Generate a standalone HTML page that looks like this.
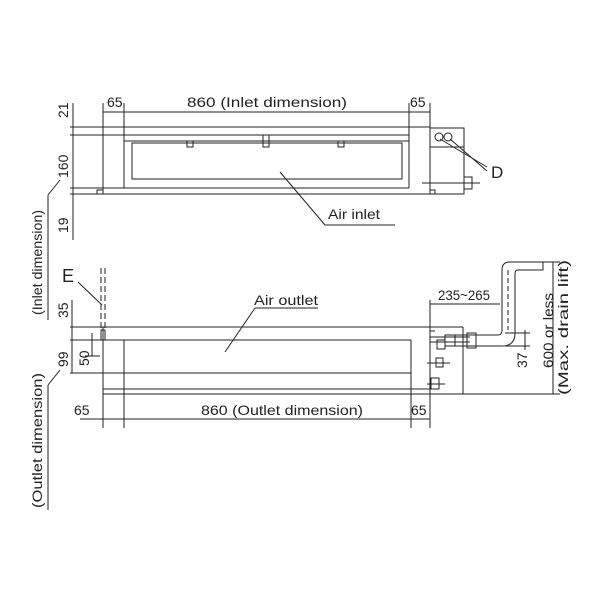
<!DOCTYPE html>
<html><head><meta charset="utf-8"><style>
html,body{margin:0;padding:0;background:#fff;}
svg{display:block;}
text{font-family:"Liberation Sans",sans-serif;font-size:14px;fill:#222;}
</style></head><body>
<svg width="600" height="600" viewBox="0 0 600 600" xmlns="http://www.w3.org/2000/svg">
<g stroke="#222" stroke-width="1" fill="none">
<!-- TOP VIEW -->
<line x1="103" y1="112" x2="430" y2="112"/>
<line x1="103" y1="103" x2="103" y2="194"/>
<line x1="124" y1="103" x2="124" y2="188"/>
<line x1="409" y1="103" x2="409" y2="188"/>
<line x1="430" y1="103" x2="430" y2="194"/>
<line x1="70" y1="127" x2="430" y2="127"/>
<line x1="70" y1="135" x2="409" y2="135"/>
<line x1="124" y1="141" x2="409" y2="141"/>
<line x1="70" y1="188" x2="409" y2="188"/>
<line x1="70" y1="194" x2="430" y2="194"/>
<rect x="132" y="143" width="270" height="36"/>
<rect x="187" y="141" width="6" height="6"/>
<rect x="263" y="135" width="6" height="12"/>
<rect x="338" y="141" width="6" height="6"/>
<rect x="97" y="190" width="6" height="4"/>
<rect x="430" y="190" width="5" height="4"/>
<line x1="73" y1="103" x2="73" y2="240"/>
<rect x="430" y="128" width="34" height="66"/>
<line x1="430" y1="147" x2="464" y2="147"/>
<circle cx="439" cy="137" r="4"/>
<circle cx="448" cy="137" r="4"/>
<line x1="440" y1="139" x2="487" y2="167"/>
<line x1="450" y1="139" x2="487" y2="171"/>
<rect x="464" y="177" width="8" height="12"/>
<line x1="422" y1="183" x2="480" y2="183"/>
<line x1="280" y1="172" x2="325" y2="225"/>
<line x1="325" y1="225" x2="395" y2="225"/>
<line x1="48" y1="195" x2="60" y2="180"/>
<line x1="48" y1="195" x2="48" y2="320"/>
<!-- BOTTOM VIEW -->
<line x1="70" y1="327" x2="463" y2="327"/>
<line x1="70" y1="340" x2="411" y2="340"/>
<line x1="70" y1="373" x2="411" y2="373"/>
<line x1="103" y1="389" x2="430" y2="389"/>
<line x1="103" y1="394" x2="463" y2="394"/>
<line x1="103" y1="327" x2="103" y2="428"/>
<line x1="124" y1="340" x2="124" y2="428"/>
<line x1="411" y1="340" x2="411" y2="428"/>
<line x1="430" y1="300" x2="430" y2="428"/>
<line x1="463" y1="327" x2="463" y2="394"/>
<line x1="463" y1="394" x2="560" y2="394"/>
<line x1="72" y1="300" x2="72" y2="373"/>
<line x1="92" y1="333" x2="92" y2="356"/>
<line x1="85" y1="356" x2="100" y2="356"/>
<line x1="80" y1="419" x2="430" y2="419"/>
<line x1="48" y1="385" x2="60" y2="370"/>
<line x1="48" y1="385" x2="48" y2="510"/>
<g stroke-dasharray="6,3">
<line x1="101" y1="268" x2="101" y2="340"/>
<line x1="105" y1="268" x2="105" y2="340"/>
</g>
<line x1="78" y1="282" x2="102" y2="305"/>
<rect x="101" y="330" width="4" height="10"/>
<line x1="225" y1="352" x2="255" y2="308"/>
<line x1="255" y1="308" x2="318" y2="308"/>
<line x1="430" y1="304" x2="500" y2="304"/>
<line x1="430" y1="331" x2="435" y2="331"/>
<line x1="430" y1="337" x2="470" y2="337"/>
<line x1="430" y1="342" x2="470" y2="342"/>
<rect x="437" y="340" width="8" height="9"/>
<line x1="427" y1="363" x2="450" y2="363"/>
<rect x="436" y="358" width="7" height="9"/>
<line x1="427" y1="384" x2="445" y2="384"/>
<rect x="431" y="378" width="8" height="11"/>
<!-- pipe -->
<path d="M445 335 H498 Q502 335 502 330 V270 Q502 262 510 262 H543 V270 H518 Q515 270 515 274 V333 Q515 346 502 346 H445 Z"/>
<rect x="467" y="333" width="9" height="15"/>
<line x1="455" y1="335" x2="455" y2="346"/>
<line x1="508" y1="270" x2="508" y2="330" stroke-dasharray="5,3"/>
<line x1="525" y1="330" x2="525" y2="350"/>
<line x1="505" y1="333" x2="530" y2="333"/>
<line x1="505" y1="346" x2="530" y2="346"/>
<line x1="553" y1="262" x2="553" y2="394"/>
<line x1="540" y1="262" x2="560" y2="262"/>
</g>
<text x="107" y="107">65</text>
<text x="187" y="107" textLength="160" lengthAdjust="spacingAndGlyphs">860 (Inlet dimension)</text>
<text x="410" y="107">65</text>
<text x="328" y="219" textLength="52" lengthAdjust="spacingAndGlyphs">Air inlet</text>
<text x="491" y="178" style="font-size:17px">D</text>
<text x="254" y="305" textLength="64" lengthAdjust="spacingAndGlyphs">Air outlet</text>
<text x="74" y="415">65</text>
<text x="201" y="415" textLength="162" lengthAdjust="spacingAndGlyphs">860 (Outlet dimension)</text>
<text x="411" y="415">65</text>
<text x="438" y="300" textLength="52" lengthAdjust="spacingAndGlyphs">235~265</text>
<text x="62" y="282" style="font-size:18px">E</text>
<g transform="rotate(-90)">
<text x="-118" y="68">21</text>
<text x="-178" y="68">160</text>
<text x="-233" y="68">19</text>
<text x="-318" y="68">35</text>
<text x="-367" y="68">99</text>
<text x="-366" y="89">50</text>
<text x="-315" y="42" textLength="105" lengthAdjust="spacingAndGlyphs">(Inlet dimension)</text>
<text x="-508" y="42" textLength="135" lengthAdjust="spacingAndGlyphs">(Outlet dimension)</text>
<text x="-368" y="527">37</text>
<text x="-368" y="553" textLength="75" lengthAdjust="spacingAndGlyphs">600  or less</text>
<text x="-395" y="568" textLength="135" lengthAdjust="spacingAndGlyphs">(Max. drain lift)</text>
</g>
</svg>
</body></html>
